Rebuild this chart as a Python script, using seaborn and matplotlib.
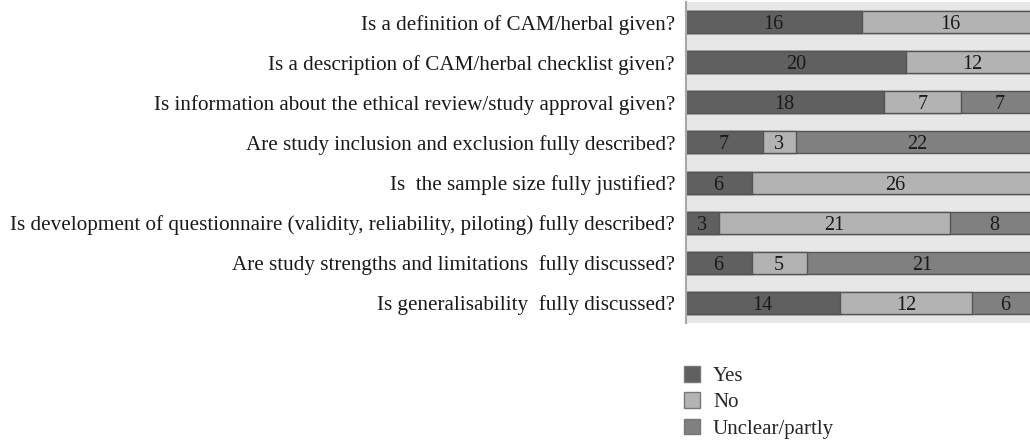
import matplotlib
matplotlib.use("Agg")
import matplotlib.pyplot as plt
from matplotlib.patches import Patch
import numpy as np
import pandas as pd
import seaborn as sns

questions = [
    "Is a definition of CAM/herbal given?",
    "Is a description of CAM/herbal checklist given?",
    "Is information about the ethical review/study approval given?",
    "Are study inclusion and exclusion fully described?",
    "Is  the sample size fully justified?",
    "Is development of questionnaire (validity, reliability, piloting) fully described?",
    "Are study strengths and limitations  fully discussed?",
    "Is generalisability  fully discussed?",
]
yes = [16, 20, 18, 7, 6, 3, 6, 14]
no = [16, 12, 7, 3, 26, 21, 5, 12]
unclear = [0, 0, 7, 22, 0, 8, 21, 6]
series_names = ["Yes", "No", "Unclear/partly"]

c_yes = "#606060"
c_no = "#b3b3b3"
c_unc = "#808080"
edge = "#555555"

sns.set_style("white")
plt.rcParams["font.family"] = ["Liberation Serif", "DejaVu Serif"]

df = pd.DataFrame({"q": questions, "yes": yes, "no": no, "unclear": unclear})
df["yn"] = df["yes"] + df["no"]
df["total"] = df["yn"] + df["unclear"]

fig = plt.figure(figsize=(10.3, 4.47), dpi=100)
ax = fig.add_axes([685.5 / 1030, 1 - 323 / 447, 1 - 685.5 / 1030, 321 / 447])
ax.set_facecolor("#e7e7e7")

bw = 0.55
sns.barplot(data=df, x="total", y="q", orient="h", color=c_unc, width=bw,
            edgecolor=edge, linewidth=1, saturation=1, ax=ax)
sns.barplot(data=df, x="yn", y="q", orient="h", color=c_no, width=bw,
            edgecolor=edge, linewidth=1, saturation=1, ax=ax)
sns.barplot(data=df, x="yes", y="q", orient="h", color=c_yes, width=bw,
            edgecolor=edge, linewidth=1, saturation=1, ax=ax)

for i, r in df.iterrows():
    starts = [0, r["yes"], r["yn"]]
    vals = [r["yes"], r["no"], r["unclear"]]
    for s, v in zip(starts, vals):
        if v > 0:
            ax.text(s + v / 2, i, f"{v}", ha="center", va="center_baseline",
                    fontsize=14.5, color="#1a1a1a")

ax.set_xlim(0, 31.26)
ax.set_ylim(len(questions) - 0.5, -0.5)
ax.set_xlabel("")
ax.set_ylabel("")
ax.set_xticks([])
ax.tick_params(axis="y", length=0, pad=7.5, labelsize=15.2, labelcolor="#1a1a1a")
for s in ["top", "right", "bottom"]:
    ax.spines[s].set_visible(False)
ax.spines["left"].set_color("#a8a8a8")
ax.spines["left"].set_linewidth(1.5)

handles = [Patch(facecolor=c, edgecolor="#777777", linewidth=1) for c in (c_yes, c_no, c_unc)]
fig.legend(handles, series_names, loc="upper left",
           bbox_to_anchor=(684 / 1030, 1 - 366 / 447), frameon=False,
           borderpad=0, borderaxespad=0,
           fontsize=15, handlelength=0.77, handleheight=0.77,
           handletextpad=0.62, labelspacing=0.3)

fig.savefig("out.png", dpi=100)
